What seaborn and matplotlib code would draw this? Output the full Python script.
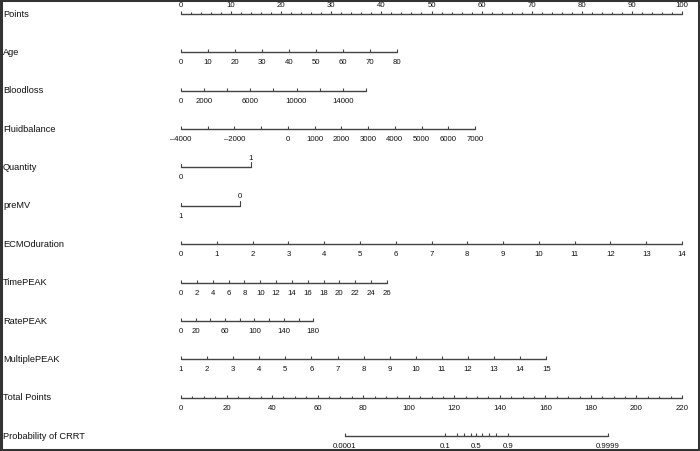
import numpy as np
import pandas as pd
import matplotlib
matplotlib.use("Agg")
import matplotlib.pyplot as plt
import seaborn as sns

sns.set_theme(style="white")
plt.rcParams['font.family'] = ['Liberation Sans', 'DejaVu Sans']

# ---------------- data ----------------
row_names = ["Points", "Age", "Bloodloss", "Fluidbalance", "Quantity", "preMV",
             "ECMOduration", "TimePEAK", "RatePEAK", "MultiplePEAK",
             "Total Points", "Probability of CRRT"]

age_ticks = [0, 10, 20, 30, 40, 50, 60, 70, 80]
age_labels = [0, 10, 20, 30, 40, 50, 60, 70, 80]
age_pts = (0.0, 43.1)

blood_ticks = [0, 2000, 4000, 6000, 8000, 10000, 12000, 14000, 16000]
blood_labels = [0, 2000, 6000, 10000, 14000]
blood_pts = (0.0, 36.9)

fluid_ticks = [-4000, -3000, -2000, -1000, 0, 1000, 2000, 3000, 4000, 5000, 6000, 7000]
fluid_labels = [-4000, -2000, 0, 1000, 2000, 3000, 4000, 5000, 6000, 7000]
fluid_pts = (0.0, 58.7)

quantity_levels = [0, 1]
quantity_pts = [0.0, 13.9]

premv_levels = [1, 0]
premv_pts = [0.0, 11.8]

ecmo_ticks = list(range(0, 15))
ecmo_labels = list(range(0, 15))
ecmo_pts = (0.0, 100.0)

time_ticks = list(range(0, 27, 2))
time_labels = list(range(0, 27, 2))
time_pts = (0.0, 41.1)

rate_ticks = list(range(0, 181, 20))
rate_labels = [0, 20, 60, 100, 140, 180]
rate_pts = (0.0, 26.4)

mult_ticks = list(range(1, 16))
mult_labels = list(range(1, 16))
mult_pts = (0.0, 72.9)

points_ticks = list(range(0, 101, 2))
points_labels = list(range(0, 101, 10))

total_ticks = list(range(0, 221, 5))
total_labels = list(range(0, 221, 20))
total_max = 220

prob_ticks = [0.0001, 0.1, 0.2, 0.3, 0.4, 0.5, 0.6, 0.7, 0.8, 0.9, 0.9999]
prob_labels = [0.0001, 0.1, 0.5, 0.9, 0.9999]
lp_at_half = 129.75     # total points where probability = 0.5
lp_slope = 0.1595       # logit per total point

# ---------------- layout helpers ----------------
W, H = 700, 452
PX0, PX100 = 181.0, 682.0
scale = (PX100 - PX0) / 100.0
row_y = [15 + 38.36 * i for i in range(len(row_names))]

def lin(vals, ticks, pts):
    v0, v1 = ticks[0], ticks[-1]
    return [pts[0] + (v - v0) * (pts[1] - pts[0]) / (v1 - v0) for v in vals]

def total_to_pts(t):
    return [v * 100.0 / total_max for v in t]

def prob_to_pts(p):
    p = np.asarray(p, dtype=float)
    tp = lp_at_half + np.log(p / (1 - p)) / lp_slope
    return list(tp * 100.0 / total_max)

def fmt(v):
    if isinstance(v, float):
        s = ("%g" % v)
    else:
        s = str(v)
    return s.replace("-", "\u2013")

specs = []
specs.append((0, points_ticks, points_ticks, points_labels, points_labels, "above"))
for i, (tk, lb, pr) in zip([1, 2, 3, 6, 7, 8, 9],
                           [(age_ticks, age_labels, age_pts),
                            (blood_ticks, blood_labels, blood_pts),
                            (fluid_ticks, fluid_labels, fluid_pts),
                            (ecmo_ticks, ecmo_labels, ecmo_pts),
                            (time_ticks, time_labels, time_pts),
                            (rate_ticks, rate_labels, rate_pts),
                            (mult_ticks, mult_labels, mult_pts)]):
    specs.append((i, lin(tk, tk, pr), tk, lin(lb, tk, pr), lb, "below"))
specs.append((10, total_to_pts(total_ticks), total_ticks,
              total_to_pts(total_labels), total_labels, "below"))
specs.append((11, prob_to_pts(prob_ticks), prob_ticks,
              prob_to_pts(prob_labels), prob_labels, "below"))

seg_rows = []
for (i, tx, tv, lx, lv, side) in specs:
    seg_rows.append(dict(row=i, x=min(tx), y=row_y[i]))
    seg_rows.append(dict(row=i, x=max(tx), y=row_y[i]))
for i, pts in [(4, quantity_pts), (5, premv_pts)]:
    seg_rows.append(dict(row=i, x=min(pts), y=row_y[i]))
    seg_rows.append(dict(row=i, x=max(pts), y=row_y[i]))
seg = pd.DataFrame(seg_rows)

# ---------------- drawing ----------------
fig = plt.figure(figsize=(W / 100, H / 100), dpi=100)
ax = fig.add_axes([0, 0, 1, 1])
ax.set_xlim(-PX0 / scale, (W - PX0) / scale)
ax.set_ylim(H, 0)
ax.axis("off")

line_col = "#444444"
text_col = "#111111"

sns.lineplot(data=seg, x="x", y="y", units="row", estimator=None,
             color=line_col, linewidth=1.0, ax=ax, legend=False, sort=False)

tick_fs = 5.6
for (i, tx, tv, lx, lv, side) in specs:
    y = row_y[i]
    major = set(lv)
    for x, v in zip(tx, tv):
        L = 3.0 if (v in major or i not in (0, 10)) else 1.8
        ax.plot([x, x], [y, y - L], color=line_col, lw=0.8, solid_capstyle="butt")
    for x, v in zip(lx, lv):
        dy = -9.5 if side == "above" else 9.5
        ax.text(x, y + dy, fmt(v), ha="center", va="center",
                fontsize=tick_fs, color=text_col)

for i, levels, pts in [(4, quantity_levels, quantity_pts), (5, premv_levels, premv_pts)]:
    y = row_y[i]
    ax.plot([pts[0], pts[0]], [y, y - 3], color=line_col, lw=0.8)
    ax.plot([pts[1], pts[1]], [y, y - 5], color=line_col, lw=0.8)
    ax.text(pts[0], y + 9.5, fmt(levels[0]), ha="center", va="center",
            fontsize=tick_fs, color=text_col)
    ax.text(pts[1], y - 10, fmt(levels[1]), ha="center", va="center",
            fontsize=tick_fs, color=text_col)

for i, name in enumerate(row_names):
    ax.text(-178 / scale, row_y[i] - 0.8, name, ha="left", va="center",
            fontsize=6.7, color=text_col)

fig.patches.append(plt.Rectangle((0.0015, 0.002), 0.997, 0.996, transform=fig.transFigure,
                                 fill=False, edgecolor="#333333", linewidth=2.2))

fig.savefig("out.png", dpi=100)
